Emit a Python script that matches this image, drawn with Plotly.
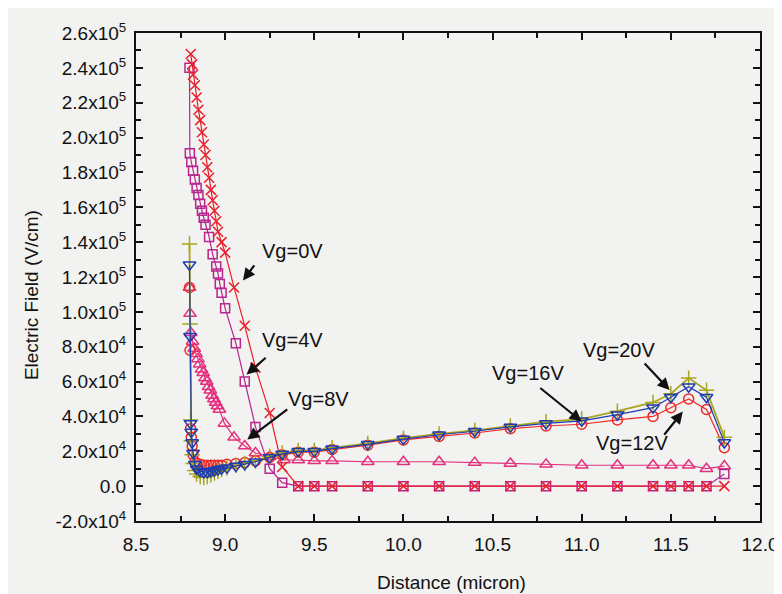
import plotly.graph_objects as go

# ---------------- data (values in units of 1e4 V/cm) ----------------
x_tail = [9.5, 9.6, 9.8, 10.0, 10.2, 10.4, 10.6, 10.8, 11.0, 11.2, 11.4, 11.5, 11.6, 11.7, 11.8]

# Vg = 0V (red X)
x_0v = [8.807, 8.815, 8.82, 8.83, 8.84, 8.85, 8.86, 8.87, 8.88, 8.89, 8.90, 8.91, 8.92, 8.93,
        8.94, 8.95, 8.96, 8.98, 9.0, 9.05, 9.11, 9.17, 9.25, 9.32, 9.41] + x_tail
e_0v = [24.8, 24.2, 23.6, 23.0, 22.3, 21.6, 21.0, 20.3, 19.6, 19.0, 18.3, 17.7, 17.0, 16.4,
        15.8, 15.2, 14.6, 14.0, 13.4, 11.4, 9.2, 6.8, 4.2, 1.1, 0.0,
        0, 0, 0, 0, 0, 0, 0, 0, 0, 0, 0, 0, 0, 0, 0]

# Vg = 4V (magenta squares)
x_4v = [8.800, 8.802, 8.81, 8.82, 8.83, 8.84, 8.85, 8.86, 8.87, 8.88, 8.89, 8.91, 8.93, 8.95,
        8.96, 8.97, 8.98, 9.0, 9.06, 9.11, 9.17, 9.25, 9.32, 9.41] + x_tail
e_4v = [24.0, 19.1, 18.6, 18.1, 17.6, 17.1, 16.7, 16.2, 15.8, 15.4, 15.0, 14.3, 13.3, 12.6,
        12.2, 11.6, 11.1, 10.2, 8.2, 6.0, 3.4, 1.0, 0.2, 0.0,
        0, 0, 0, 0, 0, 0, 0, 0, 0, 0, 0, 0, 0, 0, 0.7]

# Vg = 8V (pink triangles)
x_8v = [8.800, 8.803, 8.807, 8.817, 8.827, 8.837, 8.847, 8.857, 8.867, 8.877, 8.887, 8.897,
        8.907, 8.917, 8.927, 8.937, 8.947, 8.957, 8.968, 8.996, 9.05, 9.11, 9.17, 9.25, 9.33, 9.41] + x_tail
e_8v = [11.4, 9.9, 8.8, 8.3, 7.9, 7.6, 7.3, 7.0, 6.7, 6.5, 6.2, 6.0, 5.7, 5.5, 5.2, 5.0, 4.8,
        4.6, 4.4, 3.6, 2.8, 2.3, 1.9, 1.7, 1.5, 1.5,
        1.45, 1.45, 1.4, 1.4, 1.4, 1.35, 1.3, 1.25, 1.2, 1.2, 1.2, 1.2, 1.2, 1.0, 1.15]

# Vg = 12V / 16V / 20V share the same grid
x_hi = [8.800, 8.803, 8.806, 8.810, 8.815, 8.82, 8.83, 8.84, 8.86, 8.88, 8.90, 8.92, 8.94, 8.96,
        8.98, 9.01, 9.06, 9.11, 9.17, 9.25, 9.32, 9.41] + x_tail
e_12v = [11.4, 7.8, 3.3, 2.8, 2.3, 1.8, 1.4, 1.3, 1.25, 1.2, 1.2, 1.2, 1.2, 1.2, 1.2, 1.25, 1.3,
         1.35, 1.45, 1.65, 1.8, 1.95,
         1.95, 2.1, 2.35, 2.65, 2.85, 3.05, 3.3, 3.45, 3.55, 3.8, 4.0, 4.5, 5.0, 4.4, 2.2]
e_16v = [12.7, 8.6, 3.6, 3.1, 2.5, 1.9, 1.25, 1.0, 0.85, 0.8, 0.8, 0.85, 0.9, 0.95, 1.0, 1.05,
         1.15, 1.25, 1.4, 1.65, 1.85, 2.0,
         2.0, 2.15, 2.4, 2.7, 2.95, 3.15, 3.4, 3.6, 3.75, 4.1, 4.5, 5.1, 5.7, 5.1, 2.5]
e_20v = [13.9, 9.3, 3.8, 2.6, 1.8, 1.3, 0.9, 0.7, 0.55, 0.5, 0.55, 0.65, 0.75, 0.85, 0.95, 1.05,
         1.2, 1.3, 1.45, 1.7, 1.9, 2.05,
         2.05, 2.2, 2.45, 2.75, 3.0, 3.2, 3.45, 3.7, 3.85, 4.3, 4.8, 5.3, 6.2, 5.5, 2.8]

y_tick_vals = [-2.0e4, 0, 2.0e4, 4.0e4, 6.0e4, 8.0e4, 1.0e5, 1.2e5, 1.4e5, 1.6e5, 1.8e5,
               2.0e5, 2.2e5, 2.4e5, 2.6e5]
y_tick_text = ["-2.0x10<sup>4</sup>", "0.0", "2.0x10<sup>4</sup>", "4.0x10<sup>4</sup>",
               "6.0x10<sup>4</sup>", "8.0x10<sup>4</sup>", "1.0x10<sup>5</sup>",
               "1.2x10<sup>5</sup>", "1.4x10<sup>5</sup>", "1.6x10<sup>5</sup>",
               "1.8x10<sup>5</sup>", "2.0x10<sup>5</sup>", "2.2x10<sup>5</sup>",
               "2.4x10<sup>5</sup>", "2.6x10<sup>5</sup>"]
x_tick_vals = [8.5, 9.0, 9.5, 10.0, 10.5, 11.0, 11.5, 12.0]

# ---------------- figure ----------------
fig = go.Figure()

def add(xs, es, name, color, symbol, size, lw=1.2):
    fig.add_trace(go.Scatter(
        x=xs, y=[v * 1e4 for v in es], name=name, mode="lines+markers",
        line=dict(color=color, width=lw),
        marker=dict(symbol=symbol, size=size, color=color,
                    line=dict(color=color, width=1.5)),
    ))

add(x_8v, e_8v, "Vg=8V", "#e2307e", "triangle-up-open", 11)
add(x_4v, e_4v, "Vg=4V", "#b8268e", "square-open", 9)
add(x_0v, e_0v, "Vg=0V", "#ea1f2c", "x-thin", 10)
add(x_hi, e_12v, "Vg=12V", "#ee2a2a", "circle-open", 10)
add(x_hi, e_20v, "Vg=20V", "#a8a51e", "cross-thin", 11, lw=1.8)
add(x_hi, e_16v, "Vg=16V", "#1d3cb0", "triangle-down-open", 11)

font_txt = "Liberation Sans, Arial, sans-serif"

def note(text, tx, ty, hx, hy, sx, sy):
    # tx,ty: text centre in data coords; (hx,hy) arrow head, (sx,sy) arrow tail
    fig.add_annotation(x=tx, y=ty, text=text, showarrow=False,
                       xanchor="center", yanchor="middle",
                       font=dict(size=20, color="#111", family=font_txt))
    fig.add_annotation(x=hx, y=hy, ax=sx, ay=sy, axref="x", ayref="y",
                       text="", showarrow=True, arrowhead=2, arrowsize=1.1,
                       arrowwidth=2.2, arrowcolor="#111")

note("Vg=0V", 9.375, 13.5e4, 9.10, 11.8e4, 9.17, 12.75e4)
note("Vg=4V", 9.375, 8.4e4, 9.12, 6.4e4, 9.236, 7.44e4)
note("Vg=8V", 9.526, 5.0e4, 9.124, 2.67e4, 9.357, 4.47e4)
note("Vg=16V", 10.70, 6.48e4, 11.0, 3.71e4, 10.759, 5.70e4)
note("Vg=20V", 11.209, 7.84e4, 11.493, 5.51e4, 11.345, 7.12e4)
note("Vg=12V", 11.284, 2.48e4, 11.567, 4.28e4, 11.456, 2.86e4)

# axis titles placed as annotations (paper coordinates)
fig.add_annotation(x=-0.167, y=0.4625, xref="paper", yref="paper", text="Electric Field (V/cm)",
                   textangle=-90, showarrow=False, xanchor="center", yanchor="middle",
                   font=dict(size=19, color="#111", family=font_txt))
fig.add_annotation(x=0.505, y=-0.126, xref="paper", yref="paper", text="Distance (micron)",
                   showarrow=False, xanchor="center", yanchor="middle",
                   font=dict(size=19, color="#111", family=font_txt))

axis_common = dict(showline=True, linecolor="#111", linewidth=2, mirror="ticks",
                   ticks="inside", ticklen=7, tickwidth=2, tickcolor="#111",
                   showgrid=False, zeroline=False,
                   tickfont=dict(size=19, color="#111", family=font_txt))

fig.update_xaxes(range=[8.5, 12.0], tickvals=x_tick_vals, tickformat=".1f",
                 ticklabelstandoff=5,
                 minor=dict(ticks="inside", ticklen=5, tickwidth=2, tickcolor="#111", dtick=0.25),
                 **axis_common)
fig.update_yaxes(range=[-2.0e4, 2.6e5], tickvals=y_tick_vals, ticktext=y_tick_text,
                 ticklabelstandoff=4,
                 minor=dict(ticks="inside", ticklen=5, tickwidth=2, tickcolor="#111", dtick=1e4),
                 **axis_common)

fig.update_layout(width=782, height=594, showlegend=False,
                  margin=dict(l=128, r=26, t=20, b=81),
                  paper_bgcolor="#f2f2f0", plot_bgcolor="#f2f2f0")

fig.write_html("out.html")
